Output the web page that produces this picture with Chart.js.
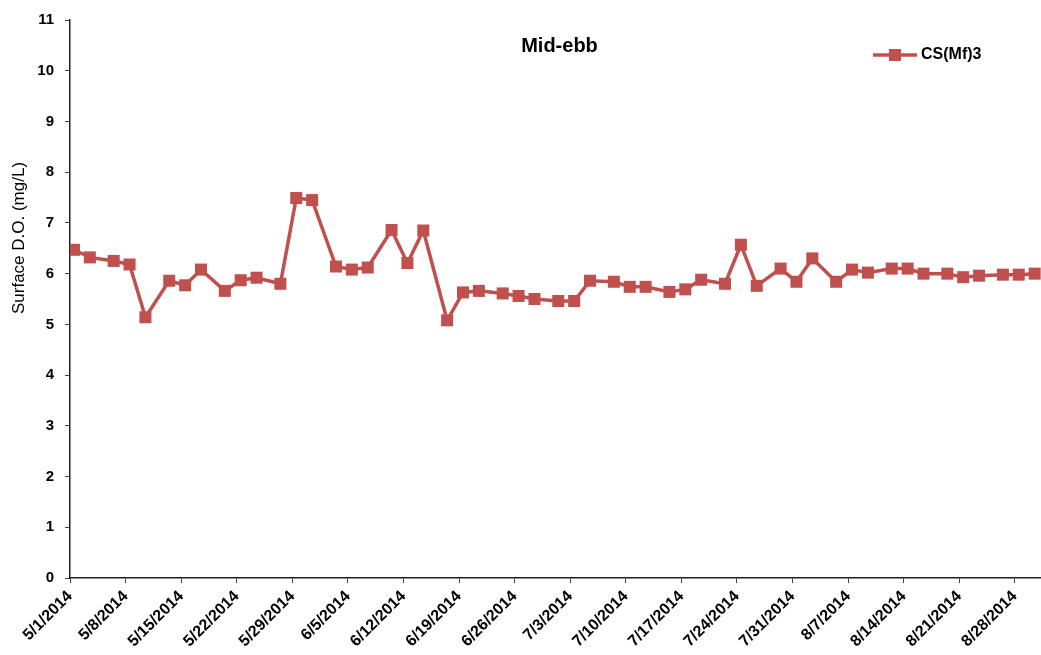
<!DOCTYPE html>
<html>
<head>
<meta charset="utf-8">
<title>Mid-ebb</title>
<script src="https://cdn.jsdelivr.net/npm/chart.js@4.4.1/dist/chart.umd.min.js"></script>
<style>
  html, body { margin: 0; padding: 0; background: #fff; }
  #wrap { width: 1041px; height: 655px; }
</style>
</head>
<body>
<div id="wrap"><canvas id="doChart"></canvas></div>
<script>
// ------------ DATA ------------ //

var chartTitle = "Mid-ebb";
var seriesName = "CS(Mf)3";
var yTitle = "Surface D.O. (mg/L)";

var sampleDates = [
    "5/1/2014", "5/3/2014", "5/6/2014", "5/8/2014", "5/10/2014", "5/13/2014", "5/15/2014",
    "5/17/2014", "5/20/2014", "5/22/2014", "5/24/2014", "5/27/2014", "5/29/2014", "5/31/2014",
    "6/3/2014", "6/5/2014", "6/7/2014", "6/10/2014", "6/12/2014", "6/14/2014", "6/17/2014",
    "6/19/2014", "6/21/2014", "6/24/2014", "6/26/2014", "6/28/2014", "7/1/2014", "7/3/2014",
    "7/5/2014", "7/8/2014", "7/10/2014", "7/12/2014", "7/15/2014", "7/17/2014", "7/19/2014",
    "7/22/2014", "7/24/2014", "7/26/2014", "7/29/2014", "7/31/2014", "8/2/2014", "8/5/2014",
    "8/7/2014", "8/9/2014", "8/12/2014", "8/14/2014", "8/16/2014", "8/19/2014", "8/21/2014",
    "8/23/2014", "8/26/2014", "8/28/2014", "8/30/2014"
];

var doValues = [
    6.47, 6.32, 6.25, 6.18, 5.14, 5.86, 5.77,
    6.08, 5.66, 5.87, 5.92, 5.80, 7.49, 7.45,
    6.14, 6.08, 6.12, 6.86, 6.21, 6.85, 5.08,
    5.63, 5.66, 5.61, 5.56, 5.50, 5.46, 5.46,
    5.86, 5.84, 5.74, 5.74, 5.64, 5.69, 5.88,
    5.80, 6.57, 5.76, 6.10, 5.84, 6.30, 5.84,
    6.08, 6.02, 6.10, 6.10, 6.00, 6.00, 5.93,
    5.96, 5.98, 5.98, 6.00
];

var xTickDates = [
    "5/1/2014", "5/8/2014", "5/15/2014", "5/22/2014", "5/29/2014", "6/5/2014", "6/12/2014",
    "6/19/2014", "6/26/2014", "7/3/2014", "7/10/2014", "7/17/2014", "7/24/2014", "7/31/2014",
    "8/7/2014", "8/14/2014", "8/21/2014", "8/28/2014"
];

var yTicks = [0, 1, 2, 3, 4, 5, 6, 7, 8, 9, 10, 11];
var axisEndDay = 122.3;   // axis runs a little past 8/31

var lineColor = '#C0504D';
var fontFamily = '"Liberation Sans", Arial, sans-serif';

// days since 5/1/2014
function toDay(s) {
    var p = s.split('/');
    var t = Date.UTC(+p[2], +p[0] - 1, +p[1]);
    return Math.round((t - Date.UTC(2014, 4, 1)) / 86400000);
}

// Excel date axis puts each point in the middle of its day
var points = sampleDates.map(function (d, i) {
    return { x: toDay(d) + 0.5, y: doValues[i] };
});

// title, y title and legend sit inside / beside the plot like the original
var overlayText = {
    id: 'overlayText',
    afterDraw: function (chart) {
        var ctx = chart.ctx;
        var area = chart.chartArea;
        ctx.save();
        ctx.fillStyle = '#000';
        ctx.textBaseline = 'middle';

        ctx.font = 'bold 20px ' + fontFamily;
        ctx.textAlign = 'center';
        ctx.fillText(chartTitle, (area.left + area.right) / 2 + 4, 46);

        ctx.save();
        ctx.translate(19, 238);
        ctx.rotate(-Math.PI / 2);
        ctx.font = '17px ' + fontFamily;
        ctx.fillText(yTitle, 0, 0);
        ctx.restore();

        // legend sample: line with a square marker
        ctx.strokeStyle = lineColor;
        ctx.lineWidth = 3.5;
        ctx.beginPath();
        ctx.moveTo(873, 55);
        ctx.lineTo(917, 55);
        ctx.stroke();
        ctx.fillStyle = lineColor;
        ctx.fillRect(889, 49, 12, 12);
        ctx.fillStyle = '#000';
        ctx.font = 'bold 16px ' + fontFamily;
        ctx.textAlign = 'left';
        ctx.fillText(seriesName, 921, 55);
        ctx.restore();
    }
};

Chart.defaults.font.family = fontFamily;
Chart.defaults.color = '#000';

new Chart(document.getElementById('doChart'), {
    type: 'line',
    data: {
        datasets: [{
            label: seriesName,
            data: points,
            borderColor: lineColor,
            backgroundColor: lineColor,
            borderWidth: 3.5,
            pointStyle: 'rect',
            pointRadius: 8.5,
            pointBorderWidth: 0,
            pointHoverRadius: 8.5,
            tension: 0
        }]
    },
    options: {
        responsive: true,
        maintainAspectRatio: false,
        animation: false,
        layout: { autoPadding: false, padding: { top: 18, right: 0, left: 0, bottom: 0 } },
        plugins: {
            legend: { display: false },
            title: { display: false },
            tooltip: { enabled: false }
        },
        scales: {
            x: {
                type: 'linear',
                min: 0,
                max: axisEndDay,
                afterBuildTicks: function (scale) {
                    scale.ticks = xTickDates.map(function (d) { return { value: toDay(d) }; });
                },
                afterFit: function (scale) {
                    scale.height = 77;
                    scale.paddingRight = 0;
                    scale.paddingLeft = 0;
                },
                ticks: {
                    autoSkip: false,
                    minRotation: 45,
                    maxRotation: 45,
                    padding: 4,
                    font: { size: 16, weight: 'bold' },
                    callback: function (value, index) { return xTickDates[index]; }
                },
                grid: { drawOnChartArea: false, drawTicks: true, tickLength: 5, color: '#444' },
                border: { color: '#222', width: 1.5 }
            },
            y: {
                min: 0,
                max: 11,
                afterBuildTicks: function (scale) {
                    scale.ticks = yTicks.map(function (v) { return { value: v }; });
                },
                afterFit: function (scale) { scale.width = 70; },
                ticks: {
                    padding: 11,
                    font: { size: 15, weight: 'bold' }
                },
                grid: { drawOnChartArea: false, drawTicks: true, tickLength: 5, color: '#444' },
                border: { color: '#222', width: 1.5 }
            }
        }
    },
    plugins: [overlayText]
});
</script>
</body>
</html>
